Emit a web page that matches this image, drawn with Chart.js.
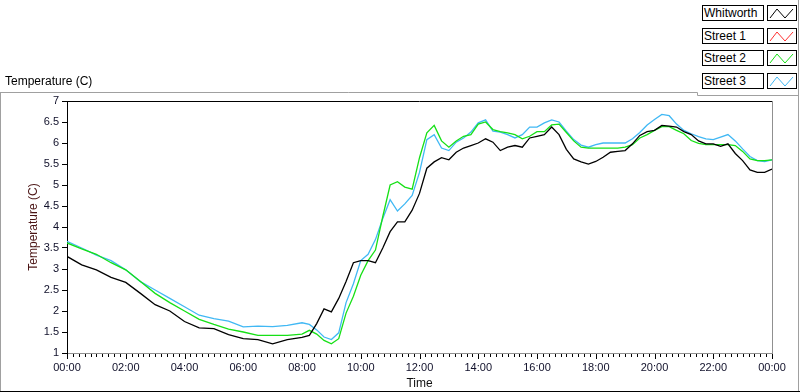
<!DOCTYPE html>
<html>
<head>
<meta charset="utf-8">
<script src="https://cdn.jsdelivr.net/npm/chart.js@4"></script>
<style>
  body { margin: 0; background: #fff; }
  #wrap { position: relative; width: 800px; height: 392px; font-family: "Liberation Sans", Arial, sans-serif; }
  #chart { position: absolute; left: 0; top: 0; }
  .topLabel { position: absolute; left: 5px; top: 74px; font-size: 12px; color: #000; }
  .name { position: absolute; left: 702px; width: 59px; height: 14px; border: 1px solid #000; font-size: 12px; line-height: 14px; padding-left: 1px; background: #fff; }
  .icon { position: absolute; left: 767px; width: 28px; height: 14px; border: 1px solid #000; background: #fff; }
  .icon svg { display: block; }
</style>
</head>
<body>
<div id="wrap">
  <canvas id="chart" width="800" height="392"></canvas>
  <div class="topLabel">Temperature (C)</div>
  <div id="legend"></div>
</div>
<script>
// hours since midnight
const times = [0, 0.5, 1, 1.5, 2, 2.5, 3, 3.5, 4, 4.5, 5, 5.5, 6, 6.5, 7, 7.5, 8,
  8.25, 8.5, 8.75, 9, 9.25, 9.5, 9.75, 10, 10.25, 10.5, 10.75, 11,
  11.25, 11.5, 11.75, 12, 12.25, 12.5, 12.75, 13, 13.25, 13.5, 13.75, 14,
  14.25, 14.5, 14.75, 15, 15.25, 15.5, 15.75, 16, 16.25, 16.5, 16.75, 17,
  17.25, 17.5, 17.75, 18, 18.25, 18.5, 18.75, 19, 19.25, 19.5, 19.75, 20,
  20.25, 20.5, 20.75, 21, 21.25, 21.5, 21.75, 22, 22.25, 22.5, 22.75, 23,
  23.25, 23.5, 23.75, 24];

const seriesNames = ["Whitworth", "Street 1", "Street 2", "Street 3"];
const seriesColors = ["#000000", "#ff3030", "#16e016", "#40b8f4"];

const whitworth = [3.3, 3.1, 2.98, 2.8, 2.68, 2.42, 2.15, 2.0, 1.75, 1.6, 1.58, 1.44, 1.34, 1.32, 1.22, 1.32, 1.37,
  1.42, 1.7, 2.05, 1.98,
  2.3, 2.7, 3.15, 3.2,
  3.2, 3.15, 3.5, 3.89,
  4.12, 4.12, 4.4, 4.8,
  5.4, 5.55, 5.65, 5.6,
  5.78, 5.88, 5.94, 6.0,
  6.1, 6.02, 5.82, 5.9,
  5.94, 5.9, 6.12, 6.16,
  6.2, 6.38, 6.2, 5.85,
  5.62, 5.55, 5.5, 5.56,
  5.66, 5.78, 5.8, 5.82,
  5.98, 6.18, 6.27, 6.3,
  6.42, 6.4, 6.38, 6.27,
  6.2, 6.05, 5.98, 5.98,
  5.92, 5.98, 5.75, 5.58,
  5.36, 5.3, 5.3, 5.38];

const street1 = [];

const street2 = [3.62, 3.48, 3.35, 3.15, 2.98, 2.7, 2.42, 2.2, 2.0, 1.8, 1.68, 1.57, 1.5, 1.42, 1.42, 1.42, 1.45,
  1.54, 1.45, 1.3, 1.22,
  1.34, 1.95, 2.35, 2.85,
  3.2, 3.45, 4.25, 5.0,
  5.08, 4.95, 4.9, 5.65,
  6.24, 6.42, 6.05, 5.9,
  6.05, 6.16, 6.2, 6.45,
  6.5, 6.32, 6.27, 6.24,
  6.2, 6.1, 6.16, 6.27,
  6.27, 6.43, 6.45, 6.25,
  6.05, 5.9, 5.88, 5.88,
  5.88, 5.88, 5.88, 5.9,
  5.96, 6.12, 6.2, 6.3,
  6.39, 6.39, 6.3, 6.22,
  6.06, 5.99, 5.96, 5.96,
  5.96, 5.96, 5.94, 5.8,
  5.62, 5.58, 5.58, 5.6];

const street3 = [3.66, 3.5, 3.33, 3.2, 2.98, 2.7, 2.5, 2.3, 2.1, 1.9, 1.82, 1.76, 1.62, 1.64, 1.63, 1.66, 1.72,
  1.68, 1.55, 1.38, 1.32,
  1.48, 2.2, 2.65, 3.2,
  3.35, 3.7, 4.2, 4.65,
  4.38, 4.55, 4.75, 5.3,
  6.08, 6.2, 5.88, 5.82,
  6.02, 6.12, 6.26, 6.48,
  6.55, 6.28, 6.26, 6.2,
  6.12, 6.2, 6.38, 6.38,
  6.48, 6.55, 6.5, 6.28,
  6.08, 5.95, 5.9, 5.96,
  6.0, 6.0, 6.0, 6.0,
  6.1, 6.25, 6.43, 6.56,
  6.68, 6.65, 6.45, 6.3,
  6.22, 6.15, 6.1, 6.08,
  6.14, 6.2, 6.05, 5.86,
  5.68, 5.58, 5.56, 5.6];

const seriesValues = [whitworth, street1, street2, street3];

function toPoints(vals) {
    return vals.map((v, i) => ({ x: times[i], y: v }));
}

// legend boxes, LabVIEW style
const legend = document.getElementById("legend");
seriesNames.forEach(function (name, i) {
    const top = 5 + i * 22.7;
    const n = document.createElement("div");
    n.className = "name";
    n.style.top = top + "px";
    n.textContent = name;
    legend.appendChild(n);
    const ic = document.createElement("div");
    ic.className = "icon";
    ic.style.top = top + "px";
    ic.innerHTML = '<svg width="28" height="14"><polyline points="2,12 9,3 17,12 25,3" fill="none" stroke="' +
        seriesColors[i] + '" stroke-width="1"/></svg>';
    legend.appendChild(ic);
});

const framePlugin = {
    id: "frame",
    afterDraw(chart) {
        const ctx = chart.ctx;
        const a = chart.chartArea;
        const xs = chart.scales.x;
        function seg(x1, y1, x2, y2, c) {
            ctx.strokeStyle = c;
            ctx.beginPath();
            ctx.moveTo(x1, y1);
            ctx.lineTo(x2, y2);
            ctx.stroke();
        }
        ctx.save();
        ctx.lineWidth = 1;
        // outer panel
        seg(0.5, 92.5, 0.5, 392, "#a0a0a0");
        seg(0, 92.5, 697.5, 92.5, "#a0a0a0");
        seg(697.5, 92.5, 697.5, 95.5, "#a0a0a0");
        seg(697.5, 95.5, 798.5, 95.5, "#a0a0a0");
        seg(798.5, 0, 798.5, 392, "#a0a0a0");
        seg(0, 391.5, 800, 391.5, "#000");
        // plot box
        seg(a.left, Math.round(a.top) + 0.5, a.right, Math.round(a.top) + 0.5, "#000");
        seg(Math.round(a.right) + 0.5, a.top, Math.round(a.right) + 0.5, a.bottom + 1, "#909090");
        // x ticks every 12 minutes, longer every 2 hours
        ctx.strokeStyle = "#000";
        ctx.beginPath();
        for (let m = 0; m <= 24 * 60; m += 12) {
            const px = Math.round(xs.getPixelForValue(m / 60)) + 0.5;
            const len = m % 120 === 0 ? 5 : 3;
            ctx.moveTo(px, a.bottom + 1);
            ctx.lineTo(px, a.bottom + 1 + len);
        }
        ctx.stroke();
        ctx.restore();
    }
};

const datasets = seriesNames.map(function (name, i) {
    return {
        label: name,
        data: toPoints(seriesValues[i]),
        borderColor: seriesColors[i],
        backgroundColor: seriesColors[i],
        borderWidth: 1.3,
        pointRadius: 0,
        fill: false,
        tension: 0
    };
});

const tickFont = { family: '"Liberation Sans", Arial, sans-serif', size: 11 };

new Chart(document.getElementById("chart"), {
    type: "line",
    data: { datasets: datasets },
    plugins: [framePlugin],
    options: {
        responsive: false,
        animation: false,
        events: [],
        layout: { padding: { left: 0, right: 28, top: 101, bottom: 0 } },
        plugins: { legend: { display: false }, tooltip: { enabled: false } },
        scales: {
            x: {
                type: "linear",
                min: 0,
                max: 24,
                afterFit: function (s) { s.height = 39; },
                border: { display: true, color: "#909090", width: 1 },
                grid: { display: false, drawTicks: false },
                ticks: {
                    stepSize: 2,
                    autoSkip: false,
                    maxRotation: 0,
                    padding: 8,
                    color: "#10102a",
                    font: tickFont,
                    callback: function (v) {
                        const h = Math.round(v) % 24;
                        return (h < 10 ? "0" : "") + h + ":00";
                    }
                },
                title: {
                    display: true,
                    text: "Time",
                    color: "#101010",
                    font: { family: '"Liberation Sans", Arial, sans-serif', size: 12 },
                    padding: { top: 0, bottom: 1 }
                }
            },
            y: {
                min: 1,
                max: 7,
                afterFit: function (s) { s.width = 67; },
                border: { display: true, color: "#000", width: 1 },
                grid: { drawOnChartArea: false, drawTicks: true, tickLength: 5, color: "#000" },
                ticks: {
                    stepSize: 0.5,
                    padding: 3,
                    color: "#10102a",
                    font: tickFont,
                    callback: function (v) { return String(Math.round(v * 10) / 10); }
                },
                title: {
                    display: true,
                    text: "Temperature (C)",
                    color: "#4a1414",
                    font: { family: '"Liberation Sans", Arial, sans-serif', size: 12 },
                    padding: { top: 26, bottom: 0 }
                }
            }
        }
    }
});
</script>
</body>
</html>
